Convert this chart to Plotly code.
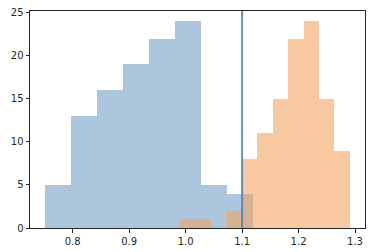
import plotly.graph_objects as go

blue_counts = [5, 13, 16, 19, 22, 24, 5, 4]
blue_start = 0.751
blue_width = 0.046

orange_counts = [1, 1, 0, 2, 8, 11, 15, 22, 24, 15, 9]
orange_start = 0.990
orange_width = 0.02735

vline_x = 1.1

x_ticks = [0.8, 0.9, 1.0, 1.1, 1.2, 1.3]
y_ticks = [0, 5, 10, 15, 20, 25]

blue_x = [blue_start + i * blue_width for i in range(len(blue_counts))]
orange_x = [orange_start + i * orange_width for i in range(len(orange_counts))]

fig = go.Figure()
fig.add_trace(go.Bar(x=blue_x, y=blue_counts, width=blue_width, offset=0,
                     marker=dict(color="rgba(70,130,180,0.45)", line=dict(width=0))))
fig.add_trace(go.Bar(x=orange_x, y=orange_counts, width=orange_width, offset=0,
                     marker=dict(color="rgba(244,164,96,0.6)", line=dict(width=0))))
fig.add_shape(type="line", x0=vline_x, x1=vline_x, y0=0, y1=1, yref="paper",
              line=dict(color="rgba(70,130,180,0.85)", width=2))

fig.update_layout(
    width=378, height=252, margin=dict(l=30, r=13, t=11, b=24, pad=0, autoexpand=False),
    barmode="overlay", bargap=0, showlegend=False,
    plot_bgcolor="white", paper_bgcolor="white",
    font=dict(family="DejaVu Sans", size=10, color="#262626"),
)
fig.update_xaxes(range=[0.7244, 1.3177], tickvals=x_ticks, ticktext=[f"{v:.1f}" for v in x_ticks],
                 showgrid=False, zeroline=False, showline=True, linecolor="#262626", linewidth=1,
                 mirror=True, ticks="outside", ticklen=3.5, tickcolor="#262626", automargin=False)
fig.update_yaxes(range=[0, 25.2], tickvals=y_ticks, showgrid=False, zeroline=False,
                 showline=True, linecolor="#262626", linewidth=1, mirror=True,
                 ticks="outside", ticklen=3.5, tickcolor="#262626", automargin=False)

fig.write_html("out.html", config={"displayModeBar": False})
